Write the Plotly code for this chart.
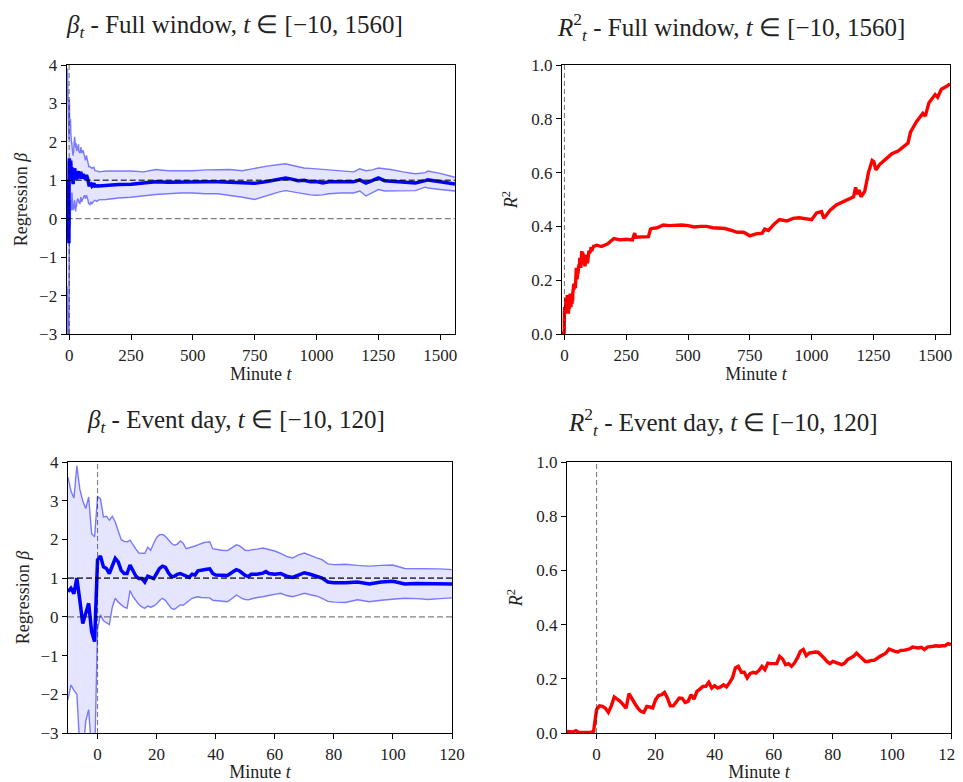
import plotly.graph_objects as go

# ---------------- Event day (t in [-10,120]) rolling regression beta ----------------
t_ev = [-10, -9, -8, -7, -6, -5, -4, -3, -2, -1, 0, 1, 2, 3, 4, 5, 6, 7, 8, 9,
        10, 11, 12, 13, 14, 15, 16, 17, 18, 19, 20, 21, 22, 23, 24, 25, 26, 27, 28, 29,
        30, 31, 32, 33, 34, 35, 36, 37, 38, 39, 40, 42, 44, 46, 47, 48, 49, 50, 51, 52,
        54, 56, 57, 58, 60, 62, 64, 66, 68, 70, 72, 74, 76, 78, 80, 84, 88, 92, 96, 100,
        104, 108, 112, 116, 120]
beta_ev = [0.65, 0.74, 0.6, 1.0, 0.43, -0.17, 0.09, 0.35, -0.38, -0.64, 1.47, 1.57, 1.29, 1.25, 1.12, 1.34, 1.51, 1.42, 1.2, 1.12,
           1.12, 1.34, 1.2, 1.05, 0.99, 0.99, 0.9, 1.05, 1.02, 0.99, 1.12, 1.25, 1.31, 1.28, 1.14, 1.04, 1.05, 1.1, 1.12, 1.08,
           1.04, 1.02, 1.1, 1.08, 1.19, 1.21, 1.22, 1.23, 1.24, 1.12, 1.08, 1.08, 1.07, 1.17, 1.22, 1.19, 1.12, 1.07, 1.04, 1.1,
           1.1, 1.13, 1.17, 1.12, 1.1, 1.12, 1.05, 1.02, 1.08, 1.14, 1.1, 1.06, 1.0, 0.9, 0.88, 0.88, 0.9, 0.85, 0.9, 0.92,
           0.85, 0.86, 0.85, 0.86, 0.85]
upper_ev = [3.61, 3.25, 3.07, 3.91, 3.3, 3.0, 2.8, 3.1, 2.15, 2.07, 3.1, 3.05, 2.58, 2.6, 2.5, 2.6, 2.45, 2.2, 2.0, 1.95,
            1.94, 1.98, 1.85, 1.75, 1.65, 1.64, 1.64, 1.8, 1.72, 1.9, 2.05, 2.12, 2.13, 2.08, 2.0, 1.9, 1.85, 1.88, 1.96, 1.9,
            1.76, 1.78, 1.8, 1.83, 1.86, 1.9, 1.92, 1.93, 1.94, 1.76, 1.74, 1.72, 1.71, 1.8, 1.86, 1.84, 1.78, 1.72, 1.71, 1.73,
            1.75, 1.78, 1.76, 1.74, 1.7, 1.64, 1.56, 1.52, 1.6, 1.65, 1.58, 1.53, 1.48, 1.37, 1.35, 1.36, 1.33, 1.31, 1.33, 1.34,
            1.25, 1.25, 1.25, 1.24, 1.22]
lower_ev = [-2.14, -1.76, -1.9, -2.0, -3.4, -3.6, -2.7, -2.4, -3.5, -3.8, -0.3, 0.05, -0.1, -0.15, -0.2, 0.25, 0.48, 0.38, 0.32, 0.25,
            0.22, 0.68, 0.52, 0.42, 0.32, 0.26, 0.22, 0.28, 0.25, 0.28, 0.33, 0.42, 0.48, 0.42, 0.33, 0.22, 0.19, 0.24, 0.31, 0.3,
            0.36, 0.44, 0.48, 0.5, 0.52, 0.5, 0.5, 0.5, 0.49, 0.43, 0.42, 0.4, 0.39, 0.5, 0.56, 0.52, 0.47, 0.45, 0.44, 0.46,
            0.5, 0.52, 0.54, 0.55, 0.58, 0.61, 0.55, 0.52, 0.56, 0.61, 0.57, 0.54, 0.48, 0.4, 0.38, 0.37, 0.44, 0.39, 0.43, 0.45,
            0.48, 0.47, 0.45, 0.47, 0.49]

# ---------------- Event day R^2 ----------------
t_r2_ev = list(range(-10, 121))
r2_ev = [0.006, 0.006, 0.004, 0.009, 0.002, 0.002, 0.001, 0.001, 0.002, 0.006,
         0.086, 0.1, 0.098, 0.091, 0.076, 0.1, 0.133, 0.125, 0.117, 0.105,
         0.092, 0.145, 0.125, 0.108, 0.092, 0.08, 0.076, 0.098, 0.096, 0.092,
         0.123, 0.138, 0.141, 0.15, 0.129, 0.1, 0.1, 0.113, 0.129, 0.128,
         0.113, 0.117, 0.141, 0.125, 0.154, 0.162, 0.172, 0.172, 0.187, 0.166,
         0.175, 0.166, 0.17, 0.178, 0.17, 0.185, 0.203, 0.24, 0.246, 0.224,
         0.224, 0.203, 0.219, 0.224, 0.221, 0.231, 0.246, 0.234, 0.258, 0.256,
         0.255, 0.256, 0.283, 0.273, 0.252, 0.256, 0.246, 0.258, 0.277, 0.301,
         0.308, 0.285, 0.295, 0.298, 0.299, 0.298, 0.289, 0.277, 0.264, 0.256,
         0.264, 0.261, 0.256, 0.252, 0.258, 0.271, 0.277, 0.283, 0.295, 0.285,
         0.277, 0.264, 0.264, 0.268, 0.268, 0.277, 0.283, 0.289, 0.295, 0.31,
         0.305, 0.301, 0.299, 0.305, 0.305, 0.308, 0.31, 0.317, 0.314, 0.314,
         0.316, 0.308, 0.317, 0.32, 0.32, 0.322, 0.32, 0.322, 0.322, 0.33, 0.326]

# ---------------- Full window continuation (t > 120) ----------------
t_cont = [150, 200, 250, 300, 350, 400, 450, 500, 550, 600, 650, 700, 750, 800, 850, 875, 900, 925, 950, 975,
          1000, 1025, 1050, 1100, 1150, 1175, 1200, 1225, 1250, 1275, 1300, 1350, 1400, 1440, 1450, 1500, 1560]
beta_cont = [0.87, 0.89, 0.9, 0.93, 0.96, 0.95, 0.96, 0.96, 0.96, 0.96, 0.95, 0.93, 0.92, 0.97, 1.04, 1.06, 1.03, 0.99, 1.0, 0.96,
             0.97, 0.93, 0.96, 0.97, 0.96, 1.01, 0.93, 0.99, 1.06, 0.99, 0.98, 0.96, 0.93, 0.99, 1.01, 0.96, 0.9]
upper_cont = [1.24, 1.24, 1.24, 1.22, 1.28, 1.25, 1.25, 1.25, 1.27, 1.28, 1.28, 1.25, 1.31, 1.37, 1.41, 1.43, 1.39, 1.35, 1.32, 1.31,
              1.3, 1.29, 1.28, 1.24, 1.22, 1.3, 1.25, 1.27, 1.32, 1.3, 1.28, 1.22, 1.17, 1.2, 1.24, 1.18, 1.08]
lower_cont = [0.5, 0.54, 0.56, 0.6, 0.63, 0.65, 0.67, 0.67, 0.65, 0.65, 0.61, 0.56, 0.5, 0.61, 0.7, 0.73, 0.7, 0.66, 0.63, 0.62,
              0.61, 0.62, 0.65, 0.67, 0.67, 0.72, 0.59, 0.67, 0.76, 0.72, 0.72, 0.72, 0.73, 0.82, 0.8, 0.76, 0.72]

t_r2_cont = [130, 150, 175, 200, 225, 250, 275, 284, 288, 295, 310, 340, 348, 352, 375, 400, 425, 450, 475, 500,
             525, 550, 575, 600, 625, 650, 675, 700, 725, 740, 750, 775, 800, 810, 825, 850, 870, 900, 925, 950,
             975, 1000, 1020, 1040, 1050, 1075, 1100, 1125, 1150, 1170, 1178, 1185, 1192, 1200, 1215, 1230, 1245, 1252, 1260, 1275,
             1300, 1325, 1350, 1375, 1390, 1400, 1425, 1450, 1460, 1475, 1500, 1510, 1525, 1545, 1560]
r2_cont = [0.33, 0.325, 0.335, 0.355, 0.35, 0.352, 0.35, 0.375, 0.36, 0.36, 0.36, 0.362, 0.39, 0.392, 0.395, 0.405, 0.403, 0.405, 0.405, 0.403,
           0.398, 0.4, 0.4, 0.395, 0.395, 0.392, 0.385, 0.378, 0.378, 0.368, 0.365, 0.372, 0.375, 0.39, 0.385, 0.41, 0.425, 0.42, 0.43, 0.432,
           0.43, 0.425, 0.45, 0.455, 0.43, 0.46, 0.48, 0.49, 0.5, 0.51, 0.545, 0.52, 0.535, 0.51, 0.53, 0.6, 0.645, 0.64, 0.61, 0.63,
           0.65, 0.67, 0.68, 0.7, 0.71, 0.75, 0.79, 0.82, 0.81, 0.86, 0.89, 0.88, 0.91, 0.92, 0.93]

# full window = event-day part followed by the continuation
t_full = t_ev + t_cont
beta_full = beta_ev + beta_cont
upper_full = upper_ev + upper_cont
lower_full = lower_ev + lower_cont
t_r2_full = t_r2_ev + t_r2_cont
r2_full = r2_ev + r2_cont

titles = [
    "<i>β</i><sub><i>t</i></sub> - Full window, <i>t</i> ∈ [−10, 1560]",
    "<i>R</i><sup>2</sup><sub><i>t</i></sub> - Full window, <i>t</i> ∈ [−10, 1560]",
    "<i>β</i><sub><i>t</i></sub> - Event day, <i>t</i> ∈ [−10, 120]",
    "<i>R</i><sup>2</sup><sub><i>t</i></sub> - Event day, <i>t</i> ∈ [−10, 120]",
]

# page body has an 8px margin: the figure starts at (8, 8) in the screenshot
OFF = 8
W, H = 963 - OFF, 782 - OFF
FONT = "Liberation Serif"

def px_x(a, b):
    return [(a - OFF) / W, (b - OFF) / W]

def px_y(top, bottom):
    return [1 - (bottom - OFF) / H, 1 - (top - OFF) / H]

fig = go.Figure()

BLUE = "rgb(0,0,255)"
BAND = "rgba(0,0,255,0.5)"
FILL = "rgba(0,0,255,0.1)"

def add_beta(t, up, lo, mid, xa, ya):
    fig.add_trace(go.Scatter(x=t, y=up, mode="lines", line=dict(color=BAND, width=1.4),
                             xaxis=xa, yaxis=ya, showlegend=False, hoverinfo="skip"))
    fig.add_trace(go.Scatter(x=t, y=lo, mode="lines", line=dict(color=BAND, width=1.4),
                             fill="tonexty", fillcolor=FILL,
                             xaxis=xa, yaxis=ya, showlegend=False, hoverinfo="skip"))
    fig.add_trace(go.Scatter(x=t, y=mid, mode="lines", line=dict(color=BLUE, width=3.5),
                             xaxis=xa, yaxis=ya, showlegend=False))

add_beta(t_full, upper_full, lower_full, beta_full, "x", "y")
fig.add_trace(go.Scatter(x=t_r2_full, y=r2_full, mode="lines", line=dict(color="red", width=3.4),
                         xaxis="x2", yaxis="y2", showlegend=False))
add_beta(t_ev, upper_ev, lower_ev, beta_ev, "x3", "y3")
fig.add_trace(go.Scatter(x=t_r2_ev, y=r2_ev, mode="lines", line=dict(color="red", width=3.4),
                         xaxis="x4", yaxis="y4", showlegend=False))

axis_common = dict(showline=True, linecolor="black", linewidth=1.2, mirror=True,
                   ticks="outside", ticklen=5, tickwidth=1.1, tickcolor="black",
                   showgrid=False, zeroline=False, automargin=False,
                   ticklabeloverflow="allow",
                   tickfont=dict(family=FONT, size=17, color="#222"))

xtitle = dict(text="Minute <i>t</i>", font=dict(family=FONT, size=18, color="#222"), standoff=2)
ytitle_beta = dict(text="Regression <i>β</i>", font=dict(family=FONT, size=18, color="#222"), standoff=6)
ytitle_r2 = dict(text="<i>R</i><sup>2</sup>", font=dict(family=FONT, size=18, color="#222"), standoff=8)

full_ticks = [0, 250, 500, 750, 1000, 1250, 1500]
ev_ticks = [0, 20, 40, 60, 80, 100, 120]
beta_ticks = [-3, -2, -1, 0, 1, 2, 3, 4]
r2_ticks = [0.0, 0.2, 0.4, 0.6, 0.8, 1.0]

fig.update_layout(
    template="none",
    width=W, height=H,
    margin=dict(l=0, r=0, t=0, b=0, autoexpand=False),
    paper_bgcolor="white", plot_bgcolor="white",
    xaxis=dict(axis_common, domain=px_x(66.7, 455), range=[-10, 1560], tickvals=full_ticks,
               title=xtitle, anchor="y"),
    yaxis=dict(axis_common, domain=px_y(65, 334), range=[-3, 4], tickvals=beta_ticks,
               title=ytitle_beta, anchor="x"),
    xaxis2=dict(axis_common, domain=px_x(562, 950), range=[-10, 1560], tickvals=full_ticks,
                title=xtitle, anchor="y2"),
    yaxis2=dict(axis_common, domain=px_y(65, 334), range=[0, 1], tickvals=r2_ticks, tickformat=".1f",
                title=ytitle_r2, anchor="x2"),
    xaxis3=dict(axis_common, domain=px_x(68, 452), range=[-10, 120], tickvals=ev_ticks,
                title=xtitle, anchor="y3"),
    yaxis3=dict(axis_common, domain=px_y(462, 733), range=[-3, 4], tickvals=beta_ticks,
                title=ytitle_beta, anchor="x3"),
    xaxis4=dict(axis_common, domain=px_x(567, 951), range=[-10, 120], tickvals=ev_ticks,
                title=xtitle, anchor="y4"),
    yaxis4=dict(axis_common, domain=px_y(462, 733), range=[0, 1], tickvals=r2_ticks, tickformat=".1f",
                title=ytitle_r2, anchor="x4"),
)

# reference lines
for xa, ya in [("x", "y"), ("x3", "y3")]:
    fig.add_shape(type="line", xref=f"{xa} domain", yref=ya, x0=0, x1=1, y0=1, y1=1,
                  line=dict(color="rgba(0,0,0,0.7)", width=1.6, dash="6px,3px"), layer="above")
    fig.add_shape(type="line", xref=f"{xa} domain", yref=ya, x0=0, x1=1, y0=0, y1=0,
                  line=dict(color="rgba(0,0,0,0.5)", width=1.3, dash="6px,3px"), layer="above")
for xa, ya in [("x", "y"), ("x2", "y2"), ("x3", "y3"), ("x4", "y4")]:
    fig.add_shape(type="line", xref=xa, yref=f"{ya} domain", x0=0, x1=0, y0=0, y1=1,
                  line=dict(color="rgba(0,0,0,0.5)", width=1.1, dash="5px,3px"), layer="above")

# subplot titles
title_pos = [(234, 27), (731, 27), (236, 422), (722, 422)]
for txt, (cx, cy) in zip(titles, title_pos):
    fig.add_annotation(text=txt, x=(cx - OFF) / W, y=1 - (cy - OFF) / H, xref="paper", yref="paper",
                       xanchor="center", yanchor="middle", showarrow=False,
                       font=dict(family=FONT, size=25, color="#222"))

fig.write_html("out.html")
